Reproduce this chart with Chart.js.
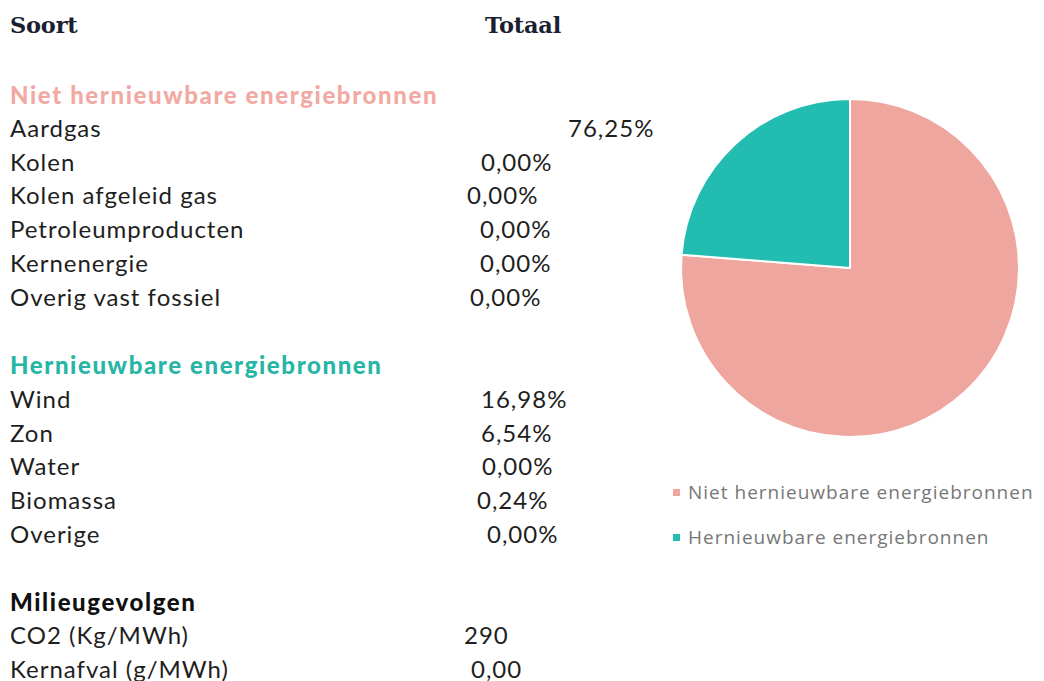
<!DOCTYPE html>
<html>
<head>
<meta charset="utf-8">
<script src="https://cdn.jsdelivr.net/npm/chart.js@4"></script>
<style>
  body { margin: 0; background: #fff; width: 1044px; height: 681px; overflow: hidden; position: relative; font-family: Lato, sans-serif; }
  .t { position: absolute; white-space: nowrap; font-size: 24px; letter-spacing: 1px; color: #1e1e1e; line-height: 1; }
  .hdr { font-family: "DejaVu Serif", serif; font-weight: bold; font-size: 22.5px; letter-spacing: -0.2px; color: #1c1f33; }
  .grp { font-weight: 900; font-size: 24px; letter-spacing: 1.6px; }
  #pieBox { position: absolute; left: 675px; top: 93px; width: 350px; height: 350px; }
  #legend { position: absolute; left: 673px; top: 480px; font-family: "Open Sans", sans-serif; font-size: 19px; color: #777; letter-spacing: 1px; }
  #legend div { height: 45px; line-height: 24px; white-space: nowrap; }
  #legend span { display: inline-block; width: 7px; height: 7px; margin-right: 8px; vertical-align: 3px; }
</style>
</head>
<body>
<div id="table"></div>
<div id="pieBox"><canvas id="pie"></canvas></div>
<div id="legend"></div>
<script>
// tabel
const nonRenewLabels = ['Aardgas', 'Kolen', 'Kolen afgeleid gas', 'Petroleumproducten', 'Kernenergie', 'Overig vast fossiel'];
const nonRenewValues = ['76,25%', '0,00%', '0,00%', '0,00%', '0,00%', '0,00%'];
const renewLabels = ['Wind', 'Zon', 'Water', 'Biomassa', 'Overige'];
const renewValues = ['16,98%', '6,54%', '0,00%', '0,24%', '0,00%'];
const envLabels = ['CO2 (Kg/MWh)', 'Kernafval (g/MWh)'];
const envValues = ['290', '0,00'];

// pie
const pieLabels = ['Niet hernieuwbare energiebronnen', 'Hernieuwbare energiebronnen'];
const pieValues = [76.25, 23.76];
const pieColors = ['#eea69f', '#22bdb0'];

// layout: waar de waardes staan (in het origineel niet netjes uitgelijnd)
const nonRenewX = [568, 481, 467, 480, 480, 470];
const renewX = [481, 481, 482, 477, 487];
const envX = [464, 471];

const table = document.getElementById('table');
function addText(txt, x, yMid, cls, color) {
    const d = document.createElement('div');
    d.className = 't ' + (cls || '');
    d.textContent = txt;
    d.style.left = x + 'px';
    d.style.top = (yMid - 13) + 'px';
    if (color) d.style.color = color;
    table.appendChild(d);
}

addText('Soort', 10, 27, 'hdr');
addText('Totaal', 485, 27, 'hdr');

const rowH = 33.7;
addText('Niet hernieuwbare energiebronnen', 10, 96, 'grp', '#f2a9a3');
nonRenewLabels.forEach((l, i) => {
    addText(l, 10, 129 + i * rowH);
    addText(nonRenewValues[i], nonRenewX[i], 129 + i * rowH);
});

addText('Hernieuwbare energiebronnen', 10, 366, 'grp', '#27b5a6');
renewLabels.forEach((l, i) => {
    addText(l, 10, 400 + i * rowH);
    addText(renewValues[i], renewX[i], 400 + i * rowH);
});

addText('Milieugevolgen', 10, 603, 'grp', '#111');
envLabels.forEach((l, i) => {
    addText(l, 10, 636 + i * rowH);
    addText(envValues[i], envX[i], 636 + i * rowH);
});

const ctx = document.getElementById('pie').getContext('2d');
const pieChart = new Chart(ctx, {
    type: 'pie',
    data: {
        labels: pieLabels,
        datasets: [{
            data: pieValues,
            backgroundColor: pieColors,
            borderColor: '#fff',
            borderWidth: 2
        }]
    },
    options: {
        responsive: true,
        maintainAspectRatio: false,
        animation: false,
        layout: { padding: 5 },
        plugins: {
            tooltip: { enabled: false },
            legend: { display: false }
        }
    }
});

// legenda onder de taart, uit de chart data
const legend = document.getElementById('legend');
pieChart.data.labels.forEach((l, i) => {
    const row = document.createElement('div');
    const box = document.createElement('span');
    box.style.background = pieChart.data.datasets[0].backgroundColor[i];
    row.appendChild(box);
    row.appendChild(document.createTextNode(l));
    legend.appendChild(row);
});
</script>
</body>
</html>
